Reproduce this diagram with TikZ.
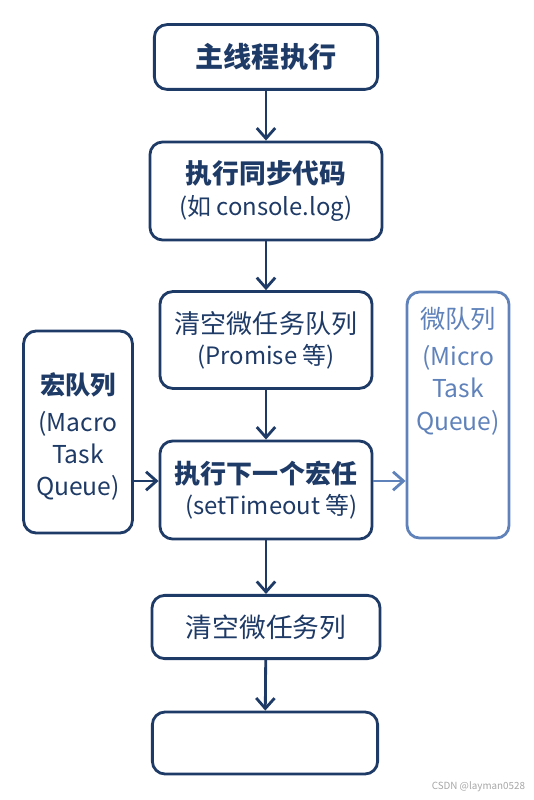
\documentclass[tikz,border=0pt]{standalone}
\usepackage{fontspec}
\setmainfont{Noto Sans CJK SC}
\usetikzlibrary{arrows.meta,positioning}
\definecolor{navy}{HTML}{1E3A66}
\definecolor{lightnavy}{HTML}{5F82BA}

\begin{document}
\begin{tikzpicture}[
  x=0.025cm, y=-0.025cm,
  box/.style={draw=navy, line width=2pt, rounded corners=9pt, align=center, text=navy, inner sep=0pt},
  qbox/.style={box, minimum width=2.72cm, minimum height=5.05cm},
  en/.style={font=\fontsize{17.5}{23}\selectfont},
  arr/.style={-{Straight Barb[length=2.6mm,width=4.6mm]}, line width=2pt, navy},
]
  \useasboundingbox (0,0) rectangle (533,800);

  % main column
  \node[box, minimum width=5.58cm, minimum height=1.62cm] (main) at (266,57)
    {\fontsize{20}{24}\selectfont\bfseries 主线程执行};
  \node[box, minimum width=5.8cm, minimum height=2.45cm] (sync) at (266,191)
    {{\fontsize{19}{24}\selectfont\bfseries 执行同步代码}\\[6pt]{\fontsize{17}{20}\selectfont (如 console.log)}};
  \node[box, minimum width=5.3cm, minimum height=2.42cm] (micro) at (266,340)
    {{\fontsize{18.5}{24}\selectfont 清空微任务队列}\\[5pt]{\fontsize{17}{20}\selectfont (Promise 等)}};
  \node[box, minimum width=5.3cm, minimum height=2.45cm] (macro) at (266,490)
    {{\fontsize{18.5}{24}\selectfont\bfseries 执行下一个宏任}\\[5pt]{\fontsize{17}{20}\selectfont \ \ (setTimeout 等)}};
  \node[box, minimum width=5.7cm, minimum height=1.58cm] (clear) at (266,627)
    {\fontsize{19}{24}\selectfont 清空微任务列};
  \node[box, minimum width=5.63cm, minimum height=1.55cm] (empty) at (265,743) {};

  % queues
  \node[qbox] (mq) at (78,432) {};
  \node[en, text=navy, align=center, below=0.95cm of mq.north] (mqt)
    {{\fontsize{18}{23}\selectfont\bfseries 宏队列}\\[3pt](Macro\\Task\\Queue)};
  \node[qbox, draw=lightnavy, minimum width=2.55cm, minimum height=6.15cm] (uq) at (458,415) {};
  \node[en, text=lightnavy, align=center, below=0.3cm of uq.north] (uqt)
    {{\fontsize{18}{23}\selectfont 微队列}\\[3pt](Micro\\Task\\Queue)};

  \draw[arr] (main) -- (sync);
  \draw[arr] (sync) -- (micro);
  \draw[arr] (micro) -- (macro);
  \draw[arr] (macro) -- (clear);
  \draw[arr] (clear) -- (empty);
  \draw[arr] (mq.east |- 0,481) -- (macro.west |- 0,481);
  \draw[arr, lightnavy] (macro.east |- 0,481) -- (uq.west |- 0,481);

  \node[font=\fontsize{7}{8}\selectfont, text=black!35, anchor=east] (mark) at (530,787) {CSDN @layman0528};
\end{tikzpicture}
\end{document}
